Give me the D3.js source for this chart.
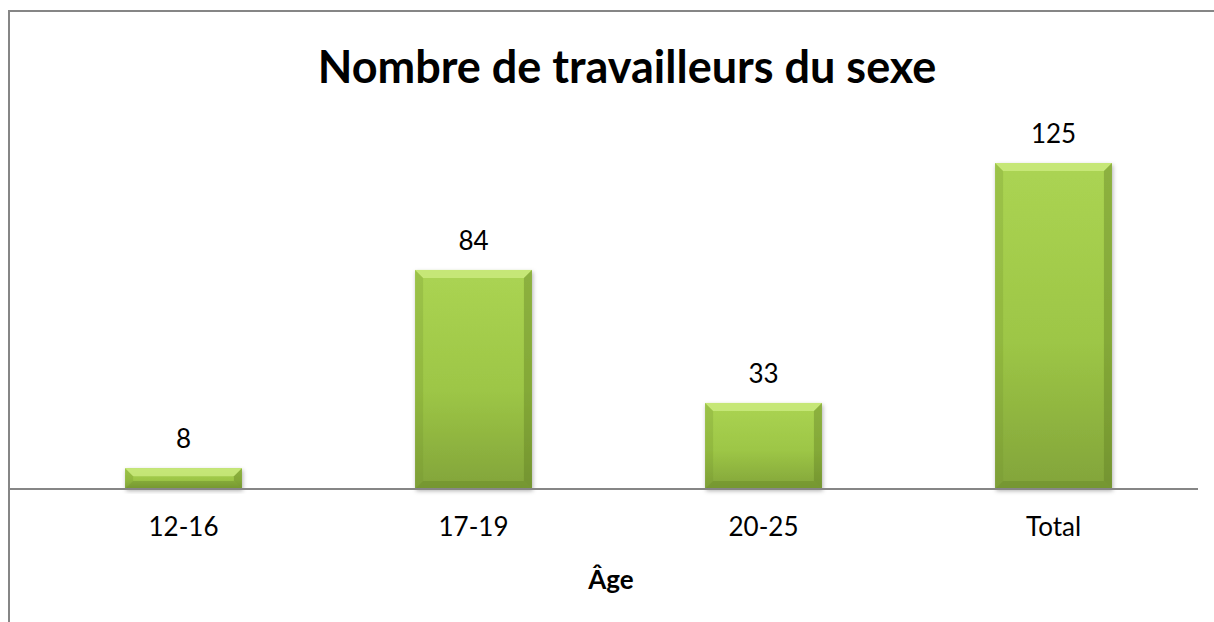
<!DOCTYPE html>
<html>
<head>
<meta charset="utf-8">
<script src="https://cdn.jsdelivr.net/npm/d3@7"></script>
<style>
  body { margin: 0; background: #fff; }
  text { font-family: Lato, "Open Sans", sans-serif; fill: #000; }
</style>
</head>
<body>
<script>
//chart values
var categories = ["12-16", "17-19", "20-25", "Total"];
var values = [8, 84, 33, 125];
var chartTitle = "Nombre de travailleurs du sexe";
var axisTitle = "Âge";

var width = 1214,
    height = 622;

var svg = d3.select("body").append("svg")
    .attr("width", width)
    .attr("height", height);

var defs = svg.append("defs");

//vertical gradient for the bar body
var grad = defs.append("linearGradient")
    .attr("id", "barGrad")
    .attr("x1", 0).attr("y1", 0).attr("x2", 0).attr("y2", 1);
grad.append("stop").attr("offset", "0%").attr("stop-color", "#abd453");
grad.append("stop").attr("offset", "55%").attr("stop-color", "#9dc646");
grad.append("stop").attr("offset", "100%").attr("stop-color", "#82a43a");

var shadow = defs.append("filter").attr("id", "shadow")
    .attr("x", "-10%").attr("y", "-10%").attr("width", "120%").attr("height", "130%");
shadow.append("feDropShadow")
    .attr("dx", 1).attr("dy", 2).attr("stdDeviation", 2)
    .attr("flood-color", "#000").attr("flood-opacity", 0.3);

//chart frame (only top and left show in the crop)
svg.append("path")
    .attr("d", "M9,622 V11 H1214")
    .attr("fill", "none")
    .attr("stroke", "#868686")
    .attr("stroke-width", 2);

var baseline = 489;

var x = d3.scaleBand()
    .domain(categories)
    .range([38.5, 1198.5])
    .paddingInner(0.597)
    .paddingOuter(0.2985);

var y = d3.scaleLinear()
    .domain([0, 125])
    .range([baseline, 163]);

svg.append("text")
    .attr("x", 627)
    .attr("y", 83)
    .attr("text-anchor", "middle")
    .style("font-size", "45px")
    .style("font-weight", "bold")
    .text(chartTitle);

var bev = 8;
var bars = svg.append("g").selectAll("g")
    .data(values)
    .enter()
    .append("g")
    .attr("filter", "url(#shadow)");

bars.each(function(d, i) {
  var g = d3.select(this);
  var x0 = x(categories[i]),
      w = x.bandwidth(),
      y0 = y(d),
      h = baseline - y0,
      b = Math.min(bev, h / 2);
  g.append("rect")
      .attr("x", x0).attr("y", y0)
      .attr("width", w).attr("height", h)
      .attr("fill", "url(#barGrad)");
  //top bevel
  g.append("path")
      .attr("d", "M" + x0 + "," + y0 + "H" + (x0 + w) + "L" + (x0 + w - b) + "," + (y0 + b) + "H" + (x0 + b) + "Z")
      .attr("fill", "#d2ef88").attr("opacity", 0.7);
  //left bevel
  g.append("path")
      .attr("d", "M" + x0 + "," + y0 + "L" + (x0 + b) + "," + (y0 + b) + "V" + (baseline - b) + "L" + x0 + "," + baseline + "Z")
      .attr("fill", "#6f8f2c").attr("opacity", 0.25);
  //right bevel
  g.append("path")
      .attr("d", "M" + (x0 + w) + "," + y0 + "L" + (x0 + w - b) + "," + (y0 + b) + "V" + (baseline - b) + "L" + (x0 + w) + "," + baseline + "Z")
      .attr("fill", "#5f7d22").attr("opacity", 0.4);
  //bottom bevel
  g.append("path")
      .attr("d", "M" + x0 + "," + baseline + "H" + (x0 + w) + "L" + (x0 + w - b) + "," + (baseline - b) + "H" + (x0 + b) + "Z")
      .attr("fill", "#5f7d22").attr("opacity", 0.35);
});

//value labels
svg.append("g").selectAll("text")
    .data(values)
    .enter()
    .append("text")
    .attr("x", function(d, i) { return x(categories[i]) + x.bandwidth() / 2; })
    .attr("y", function(d) { return y(d) - 20; })
    .attr("text-anchor", "middle")
    .style("font-size", "26px")
    .text(function(d) { return d; });

//category axis
svg.append("line")
    .attr("x1", 10).attr("x2", 1198)
    .attr("y1", baseline).attr("y2", baseline)
    .attr("stroke", "#868686")
    .attr("stroke-width", 2);

svg.append("g").selectAll("text")
    .data(categories)
    .enter()
    .append("text")
    .attr("x", function(d) { return x(d) + x.bandwidth() / 2; })
    .attr("y", 536)
    .attr("text-anchor", "middle")
    .style("font-size", "26px")
    .text(function(d) { return d; });

svg.append("text")
    .attr("x", 611)
    .attr("y", 589)
    .attr("text-anchor", "middle")
    .style("font-size", "26px")
    .style("font-weight", "bold")
    .text(axisTitle);
</script>
</body>
</html>
